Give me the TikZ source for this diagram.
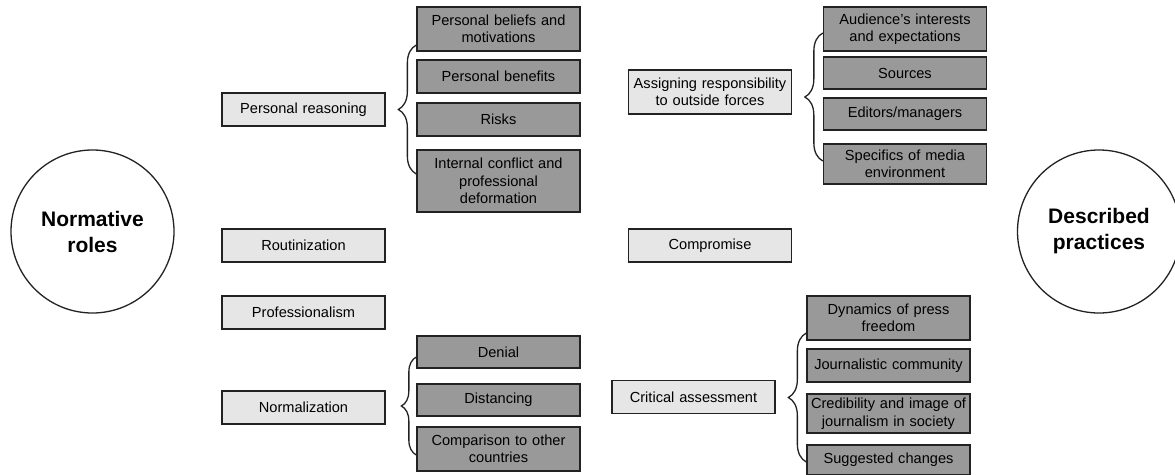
\documentclass[tikz,border=0pt]{standalone}
\usepackage{fontspec}
\setmainfont{Liberation Sans}
\usetikzlibrary{decorations.pathreplacing}
\definecolor{lightbox}{RGB}{230,230,230}
\definecolor{darkbox}{RGB}{153,153,153}
\definecolor{edge}{RGB}{34,34,34}
\begin{document}
\begin{tikzpicture}[x=1pt,y=-1pt,
  box/.style={draw=edge, line width=1.3pt, minimum width=163pt, text width=158pt, align=center, inner sep=0pt, font=\fontsize{14.6}{17.5}\selectfont},
  lbox/.style={box, fill=lightbox},
  dbox/.style={box, fill=darkbox},
  circ/.style={draw=edge, line width=1.3pt, circle, minimum size=163pt, inner sep=0pt, align=center, font=\fontsize{21}{26}\selectfont\bfseries},
  brc/.style={draw=edge, line width=1.3pt, decorate, decoration={brace, amplitude=#1, aspect=0.5}}]
\useasboundingbox (0,0) rectangle (1175,474);

% circles
\node[circ] (nr) at (92.5,231.5) {Normative\\roles};
\node[circ] (dp) at (1099,231.5) {Described\\practices};

% left light boxes
\node[lbox, minimum height=33pt] (pr) at (303.5,109.5) {Personal reasoning};
\node[lbox, minimum height=33pt] (rout) at (303.5,245.5) {Routinization};
\node[lbox, minimum height=33pt] (prof) at (303.5,312.5) {Professionalism};
\node[lbox, minimum height=33pt] (norm) at (303.5,407.5) {Normalization};

% left dark boxes
\node[dbox, minimum height=44pt] (pb) at (498.5,29) {Personal beliefs and\\motivations};
\node[dbox, minimum height=33pt] (ben) at (498.5,76.5) {Personal benefits};
\node[dbox, minimum height=33pt] (risk) at (498.5,119.5) {Risks};
\node[dbox, minimum height=62pt] (ic) at (498.5,181) {Internal conflict and\\professional\\deformation};
\node[dbox, minimum height=32pt] (den) at (498.5,352) {Denial};
\node[dbox, minimum height=32pt] (dist) at (498.5,400) {Distancing};
\node[dbox, minimum height=44pt] (comp) at (498.5,449) {Comparison to other\\countries};

% right light boxes
\node[lbox, minimum height=44pt] (aro) at (710,92) {Assigning responsibility\\to outside forces};
\node[lbox, minimum height=33pt] (cmp) at (710,245.5) {Compromise};
\node[lbox, minimum height=33pt] (crit) at (693.5,397) {Critical assessment};

% right dark boxes
\node[dbox, minimum height=44pt] (aud) at (905,29) {Audience's interests\\and expectations};
\node[dbox, minimum height=32pt] (src) at (905,73) {Sources};
\node[dbox, minimum height=32pt] (edi) at (905,114) {Editors/managers};
\node[dbox, minimum height=40pt] (spec) at (905,164) {Specifics of media\\environment};
\node[dbox, minimum height=44pt] (dyn) at (888.5,318) {Dynamics of press\\freedom};
\node[dbox, minimum height=33pt] (jc) at (888.5,365.5) {Journalistic community};
\node[dbox, minimum height=39pt] (cred) at (888.5,413.5) {Credibility and image of\\journalism in society};
\node[dbox, minimum height=30pt] (sug) at (888.5,460) {Suggested changes};

% braces
\coordinate (b1t) at (pb.west |- 0,45);
\coordinate (b1b) at (ic.west |- 0,174);
\coordinate (b2t) at (den.west |- 0,357);
\coordinate (b2b) at (comp.west |- 0,455);
\coordinate (b3t) at (aud.west |- 0,33);
\coordinate (b3b) at (spec.west |- 0,161);
\coordinate (b4t) at (dyn.west |- 0,333);
\coordinate (b4b) at (sug.west |- 0,462);
\draw[brc=18pt] (b1b) -- (b1t);
\draw[brc=15pt] (b2b) -- (b2t);
\draw[brc=18pt] (b3b) -- (b3t);
\draw[brc=18pt] (b4b) -- (b4t);
\end{tikzpicture}
\end{document}
